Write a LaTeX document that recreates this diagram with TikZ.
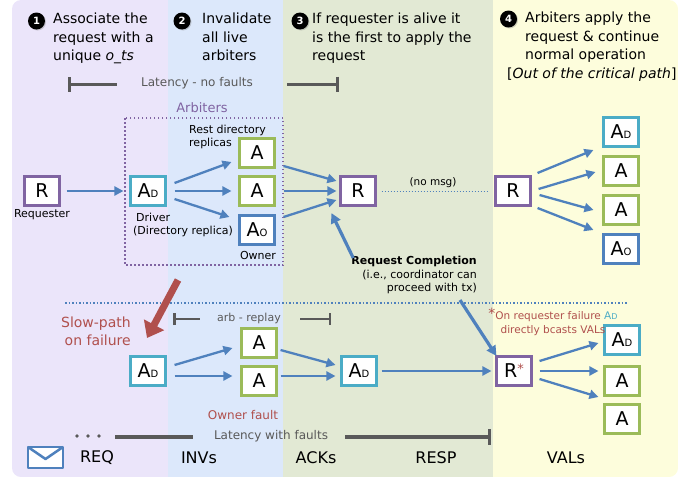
\documentclass[tikz,border=0pt]{standalone}
\usepackage{fontspec}
\setmainfont{DejaVu Sans}
\usetikzlibrary{arrows.meta,shadows,calc}
\definecolor{bgP}{RGB}{235,229,250}
\definecolor{bgB}{RGB}{220,232,251}
\definecolor{bgG}{RGB}{226,233,212}
\definecolor{bgY}{RGB}{253,253,220}
\definecolor{cP}{RGB}{128,100,162}
\definecolor{cT}{RGB}{75,172,198}
\definecolor{cG}{RGB}{155,187,89}
\definecolor{cB}{RGB}{79,129,189}
\definecolor{cA}{RGB}{79,129,189}
\definecolor{cR}{RGB}{176,80,77}
\definecolor{cL}{RGB}{89,89,89}
\newcommand{\mysub}[1]{{\fontsize{10}{10}\selectfont #1}}
\begin{document}
\begin{tikzpicture}[x=1pt,y=-1pt,
  box/.style={draw,fill=white,line width=2.6pt,minimum width=34.5pt,minimum height=29.5pt,inner sep=0pt,font=\fontsize{19}{19}\selectfont,drop shadow={shadow xshift=1pt,shadow yshift=-1pt,opacity=0.2}},
  pbox/.style={box,draw=cP},
  tbox/.style={box,draw=cT},
  gbox/.style={box,draw=cG},
  bbox/.style={box,draw=cB},
  flow/.style={draw=cA,line width=2.3pt,-{Triangle[length=9pt,width=9pt]}},
  lab/.style={font=\fontsize{11}{13.5}\selectfont,inner sep=0pt},
  head/.style={font=\fontsize{14}{18.5}\selectfont,align=left,anchor=north west,inner sep=0pt},
  num/.style={circle,fill=black,text=white,inner sep=0pt,minimum size=17pt,font=\fontsize{10}{10}\selectfont\bfseries,drop shadow={shadow xshift=1pt,shadow yshift=-1pt,opacity=0.35}},
  lat/.style={draw=cL,line width=3pt},
  latl/.style={text=cL,inner sep=0pt},
  bot/.style={font=\fontsize{16}{16}\selectfont,inner sep=0pt},
  compl/.style={draw=cA,line width=3.2pt,-{Triangle[length=10pt,width=10pt]}}
]
\useasboundingbox (0,0) rectangle (690,479);
% background panels
\begin{scope}
\clip[rounded corners=9pt] (12,0) rectangle (678,477);
\fill[bgP] (12,0) rectangle (168,477);
\fill[bgB] (168,0) rectangle (283,477);
\fill[bgG] (283,0) rectangle (493,477);
\fill[bgY] (493,0) rectangle (678,477);
\end{scope}

% headers
\node[num] (n1) at (36.5,21) {1};
\node[num] (n2) at (182,21) {2};
\node[num] (n3) at (300,21) {3};
\node[num] (n4) at (508.5,19) {4};
\node[head] (h1) at (53,13) {Associate the\\request with a\\unique \textit{o\_ts}};
\node[head] (h2) at (202,13) {Invalidate\\all live\\arbiters};
\node[head] (h3) at (312,13) {If requester is alive it\\is the first to apply the\\request};
\node[head] (h4) at (525,12) {Arbiters apply the\\request \& continue\\normal operation\\\hspace*{-18pt}[\textit{Out of the critical path}]};

% latency no faults
\node[latl,font=\fontsize{12}{12}\selectfont] (lnf) at (197,83) {Latency - no faults};
\coordinate (l1a) at (68,84); \coordinate (l1b) at (117,84);
\coordinate (l1c) at (287,84); \coordinate (l1d) at (339,84);
\draw[lat,{Bar[width=15pt]}-] (l1a) -- (l1b);
\draw[lat,-{Bar[width=15pt]}] (l1c) -- (l1d);

% arbiters group
\node[text=cP,font=\fontsize{13}{13}\selectfont,inner sep=0pt] (arb) at (202,108) {Arbiters};
\draw[cP,line width=1.6pt,dash pattern=on 1.5pt off 2.5pt] (125,118) rectangle (283,265);
\node[lab,align=left,anchor=west] (rest) at (189,137) {Rest directory\\replicas};

% upper row nodes
\node[pbox] (req) at (42,191) {R};
\node[lab] (reql) at (42,215) {Requester};
\node[tbox] (ad1) at (148,191) {A\mysub{D}};
\node[lab,align=left,anchor=west] (drv) at (133,225) {\hspace*{3pt}Driver\\(Directory replica)};
\node[gbox] (a1) at (257,153) {A};
\node[gbox] (a2) at (257,191) {A};
\node[bbox] (ao1) at (257,230) {A\mysub{O}};
\node[lab] (own) at (258,255) {Owner};
\node[pbox] (r1) at (358,191) {R};
\node[pbox] (r2) at (513,191) {R};
\node[lab,font=\fontsize{10.5}{10.5}\selectfont] (nomsg) at (433,183) {(no msg)};
\node[tbox] (f1) at (621,132) {A\mysub{D}};
\node[gbox] (f2) at (621,171) {A};
\node[gbox] (f3) at (621,210) {A};
\node[bbox] (f4) at (621,249) {A\mysub{O}};

% upper arrows
\draw[flow] ($(req.east)+(6,0)$) -- ($(ad1.west)+(-6,0)$);
\draw[flow] ($(ad1.east)+(8,-8)$) -- ($(a1.west)+(-7,9)$);
\draw[flow] ($(ad1.east)+(8,0)$) -- ($(a2.west)+(-7,0)$);
\draw[flow] ($(ad1.east)+(8,8)$) -- ($(ao1.west)+(-9,-13)$);
\draw[flow] ($(a1.east)+(8,13)$) -- ($(r1.west)+(-3,-10)$);
\draw[flow] ($(a2.east)+(8,0)$) -- ($(r1.west)+(-3,0)$);
\draw[flow] ($(ao1.east)+(8,-13)$) -- ($(r1.west)+(-3,9)$);
\draw[cA,line width=1pt,dash pattern=on 1pt off 2pt] ($(r1.east)+(5,0)$) -- ($(r2.west)+(-5,0)$);
\draw[flow] ($(r2.east)+(6,-18)$) -- ($(f1.west)+(-9,18)$);
\draw[flow] ($(r2.east)+(7,-2)$) -- ($(f2.west)+(-7,1)$);
\draw[flow] ($(r2.east)+(8,4)$) -- ($(f3.west)+(-9,0)$);
\draw[flow] ($(r2.east)+(6,17)$) -- ($(f4.west)+(-9,-19)$);

% request completion
\node[lab,align=right,anchor=north east] (rc) at (477,256) {\textbf{Request Completion}\\(i.e., coordinator can\\proceed with tx)};

% separator
\draw[cA,line width=1.6pt,dash pattern=on 1.5pt off 2pt] (65,303) -- (627,303);

% slow path
\coordinate (sp1) at (178,280); \coordinate (sp2) at (147,338);
\draw[cR,line width=7pt,-{Triangle[length=15pt,width=22pt]}] (sp1) -- (sp2);
\node[text=cR,font=\fontsize{14}{18}\selectfont,align=right,anchor=east,inner sep=0pt] (slow) at (131,331) {Slow-path\\on failure};

% arb - replay
\node[latl,font=\fontsize{11}{11}\selectfont] (arl) at (249,318) {arb - replay};
\coordinate (l2a) at (173,319); \coordinate (l2b) at (200,319);
\coordinate (l2c) at (300,319); \coordinate (l2d) at (331,319);
\draw[draw=cL,line width=2.5pt,{Bar[width=12pt]}-] (l2a) -- (l2b);
\draw[draw=cL,line width=2.5pt,-{Bar[width=12pt]}] (l2c) -- (l2d);

% lower row nodes
\node[tbox] (ad2) at (148,371) {A\mysub{D}};
\node[gbox] (b1) at (259,343) {A};
\node[gbox] (b2) at (259,381) {A};
\node[tbox] (ad3) at (359,371) {A\mysub{D}};
\node[pbox] (rs) at (514,371) {R\textcolor{cR}{\raisebox{4pt}{\fontsize{13}{13}\selectfont *}}};
\node[tbox] (g1) at (622,340) {A\mysub{D}};
\node[gbox] (g2) at (622,381) {A};
\node[gbox] (g3) at (622,419) {A};
\node[text=cR,font=\fontsize{12}{12}\selectfont,inner sep=0pt] (of) at (243,415) {Owner fault};
\node[text=cR,font=\fontsize{10.5}{14}\selectfont,align=center,inner sep=0pt] (rf) at (553,322) {{\fontsize{14}{14}\selectfont\raisebox{1pt}{*}}On requester failure \textcolor{cT}{A{\fontsize{8}{8}\selectfont D}}\\directly bcasts VALs};

% lower arrows
\draw[flow] ($(ad2.east)+(8,-6)$) -- ($(b1.west)+(-8,5)$);
\draw[flow] ($(ad2.east)+(8,5)$) -- ($(b2.west)+(-8,-5)$);
\draw[flow] ($(b1.east)+(3,7)$) -- ($(ad3.west)+(-5,-6)$);
\draw[flow] ($(b2.east)+(3,-5)$) -- ($(ad3.west)+(-5,5)$);
\draw[flow] ($(ad3.east)+(4,0)$) -- ($(rs.west)+(-4,0)$);
\draw[flow] ($(rs.east)+(7,-10)$) -- ($(g1.west)+(-5,3)$);
\draw[flow] ($(rs.east)+(7,0)$) -- ($(g2.west)+(-5,-10)$);
\draw[flow] ($(rs.east)+(7,8)$) -- ($(g3.west)+(-5,-22)$);

% completion arrows
\draw[compl] ($(rc.north west)+(2,2)$) -- ($(r1.south west)+(-8,6)$);
\draw[compl] ($(rc.south east)+(-17,6)$) -- ($(rs.north west)+(1,1)$);

% latency with faults
\foreach \xx/\nm in {77/d1,88/d2,99/d3} \fill[cL] (\xx,436) circle (1.8pt);
\node[latl,font=\fontsize{12}{12}\selectfont] (lwf) at (271,436) {Latency with faults};
\coordinate (l3a) at (115,437); \coordinate (l3b) at (193,437);
\coordinate (l3c) at (345,437); \coordinate (l3d) at (491,437);
\draw[lat,line width=3.5pt] (l3a) -- (l3b);
\draw[lat,line width=3.5pt,-{Bar[width=16pt]}] (l3c) -- (l3d);

% bottom labels
\draw[cB,line width=2.5pt,fill=white,line join=round] (28,447) rectangle (63,468);
\draw[cB,line width=2.5pt,line join=round] (28,447) -- (45.5,459) -- (63,447);
\node[bot] (lreq) at (97,458) {REQ};
\node[bot] (linv) at (199,458) {INVs};
\node[bot] (lack) at (316,458) {ACKs};
\node[bot] (lresp) at (436,458) {RESP};
\node[bot] (lval) at (566,458) {VALs};
\end{tikzpicture}
\end{document}
